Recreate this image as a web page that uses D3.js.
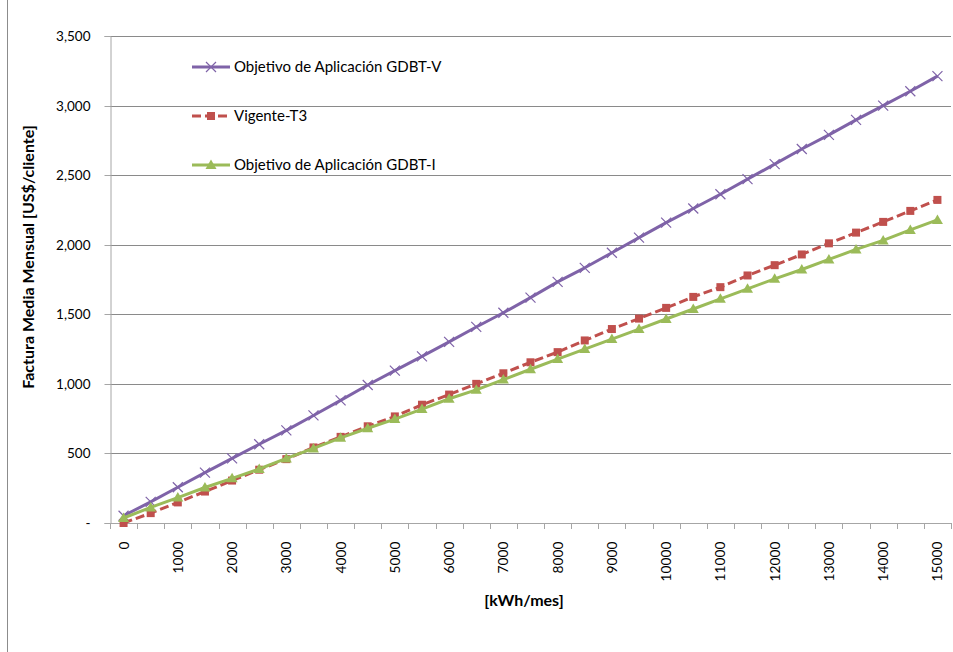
<!DOCTYPE html>
<html>
<head>
<meta charset="utf-8">
<script src="https://cdn.jsdelivr.net/npm/d3@7"></script>
<style>
  html, body { margin: 0; padding: 0; background: #fff; }
  svg { display: block; font-family: Lato, "Open Sans", sans-serif; }
</style>
</head>
<body>
<svg id="chart" width="953" height="652"></svg>
<script>
// Monthly consumption levels [kWh/mes]
const categories = [0, 500, 1000, 1500, 2000, 2500, 3000, 3500, 4000, 4500, 5000,
  5500, 6000, 6500, 7000, 7500, 8000, 8500, 9000, 9500, 10000,
  10500, 11000, 11500, 12000, 12500, 13000, 13500, 14000, 14500, 15000];

// Average monthly bill [US$/cliente] per tariff scheme
const gdbtV = [52, 152, 257, 362, 464, 566, 666, 773, 881, 992, 1095,
  1197, 1302, 1409, 1511, 1620, 1733, 1834, 1942, 2051, 2159,
  2260, 2363, 2471, 2579, 2688, 2789, 2897, 3000, 3103, 3212];
const vigenteT3 = [0, 71, 148, 226, 305, 383, 459, 543, 619, 695, 766,
  850, 923, 1000, 1076, 1155, 1228, 1312, 1394, 1469, 1546,
  1625, 1695, 1779, 1853, 1930, 2010, 2087, 2164, 2243, 2322];
const gdbtI = [36, 112, 183, 255, 321, 388, 464, 536, 612, 681, 747,
  819, 893, 957, 1031, 1105, 1178, 1250, 1322, 1394, 1466,
  1538, 1611, 1683, 1755, 1822, 1894, 1966, 2031, 2106, 2178];

const yTicks = [0, 500, 1000, 1500, 2000, 2500, 3000, 3500];

const series = [
  { name: "Objetivo de Aplicación GDBT-V", values: gdbtV, color: "#7f63a8", marker: "x", dash: null },
  { name: "Vigente-T3", values: vigenteT3, color: "#c0504d", marker: "square", dash: "9,4" },
  { name: "Objetivo de Aplicación GDBT-I", values: gdbtI, color: "#9bbb59", marker: "triangle", dash: null }
];

const svg = d3.select("#chart");
const plot = { left: 110, right: 951, top: 36, bottom: 523 };

const x = d3.scaleBand().domain(categories).range([plot.left, plot.right]).paddingInner(0).paddingOuter(0);
const y = d3.scaleLinear().domain([0, 3500]).range([plot.bottom, plot.top]);
const cx = d => x(d) + x.bandwidth() / 2;

// outer frame edge
svg.append("line").attr("x1", 7.5).attr("x2", 7.5).attr("y1", 0).attr("y2", 652)
  .attr("stroke", "#8c8c8c").attr("stroke-width", 1);

// horizontal gridlines
svg.append("g").selectAll("line").data(yTicks.filter(t => t > 0)).join("line")
  .attr("x1", plot.left).attr("x2", plot.right)
  .attr("y1", d => Math.round(y(d)) + 0.5).attr("y2", d => Math.round(y(d)) + 0.5)
  .attr("stroke", "#8a8a8a").attr("stroke-width", 1);

// y axis
const yAxis = svg.append("g").attr("transform", `translate(${plot.left + 0.5},0)`)
  .call(d3.axisLeft(y).tickValues(yTicks).tickSize(6).tickPadding(14)
    .tickFormat(d => d === 0 ? "-" : d3.format(",")(d)));
yAxis.select(".domain").attr("stroke", "#a6a6a6");
yAxis.selectAll(".tick line").attr("stroke", "#a6a6a6");
yAxis.selectAll(".tick").attr("transform", d => `translate(0,${Math.round(y(d)) + 0.5})`);
yAxis.selectAll("text").attr("fill", "#000").attr("font-size", "13.5px")
  .attr("font-family", "Lato, sans-serif");

// x axis: labels on every other category, ticks at category boundaries
const xAxis = svg.append("g").attr("transform", `translate(0,${plot.bottom + 0.5})`)
  .call(d3.axisBottom(x).tickSize(0).tickPadding(0)
    .tickFormat((d, i) => i % 2 === 0 ? String(d) : ""));
xAxis.select(".domain").remove();
xAxis.selectAll("text")
  .attr("fill", "#000").attr("font-size", "13.8px").attr("font-family", "Lato, sans-serif")
  .attr("text-anchor", "end").attr("transform", "translate(0,18) rotate(-90)")
  .attr("x", 0).attr("y", 0).attr("dy", "0.36em");

const bounds = categories.map(c => x(c)).concat([plot.right]);
svg.append("g").selectAll("line").data(bounds).join("line")
  .attr("x1", d => Math.round(d) + 0.5).attr("x2", d => Math.round(d) + 0.5)
  .attr("y1", plot.bottom).attr("y2", plot.bottom + 6)
  .attr("stroke", "#a6a6a6");
svg.append("line").attr("x1", plot.left).attr("x2", plot.right)
  .attr("y1", plot.bottom + 0.5).attr("y2", plot.bottom + 0.5)
  .attr("stroke", "#a6a6a6");

// axis titles
svg.append("text").attr("transform", "translate(34,257) rotate(-90)")
  .attr("text-anchor", "middle").attr("font-weight", "bold").attr("font-size", "16px")
  .attr("fill", "#000").text("Factura Media Mensual [US$/cliente]");
svg.append("text").attr("x", 524).attr("y", 606)
  .attr("text-anchor", "middle").attr("font-weight", "bold").attr("font-size", "16px")
  .attr("fill", "#000").text("[kWh/mes]");

// marker drawing
function drawMarker(g, type, color) {
  if (type === "x") {
    g.append("path").attr("d", "M-5,-5L5,5M-5,5L5,-5")
      .attr("stroke", color).attr("stroke-width", 1.2).attr("fill", "none");
  } else if (type === "square") {
    g.append("rect").attr("x", -4).attr("y", -4).attr("width", 8).attr("height", 8)
      .attr("fill", color);
  } else {
    g.append("path").attr("d", "M0,-5.5L5.5,4L-5.5,4Z").attr("fill", color);
  }
}

const line = d3.line().x((d, i) => cx(categories[i])).y(d => y(d));

series.forEach(s => {
  const g = svg.append("g");
  g.append("path").datum(s.values).attr("d", line)
    .attr("fill", "none").attr("stroke", s.color).attr("stroke-width", 3)
    .attr("stroke-dasharray", s.dash).attr("stroke-linejoin", "round");
  g.selectAll("g.m").data(s.values).join("g").attr("class", "m")
    .attr("transform", (d, i) => `translate(${cx(categories[i])},${y(d)})`)
    .each(function () { drawMarker(d3.select(this), s.marker, s.color); });
});

// legend
const legend = svg.append("g");
series.forEach((s, i) => {
  const ly = 67 + i * 49;
  const row = legend.append("g").attr("transform", `translate(0,${ly})`);
  row.append("line").attr("x1", 192).attr("x2", 230).attr("y1", 0).attr("y2", 0)
    .attr("stroke", s.color).attr("stroke-width", 3).attr("stroke-dasharray", s.dash);
  drawMarker(row.append("g").attr("transform", "translate(211,0)"), s.marker, s.color);
  row.append("text").attr("x", 234).attr("y", 0).attr("dy", "0.36em")
    .attr("font-size", "15px").attr("fill", "#000").text(s.name);
});
</script>
</body>
</html>
